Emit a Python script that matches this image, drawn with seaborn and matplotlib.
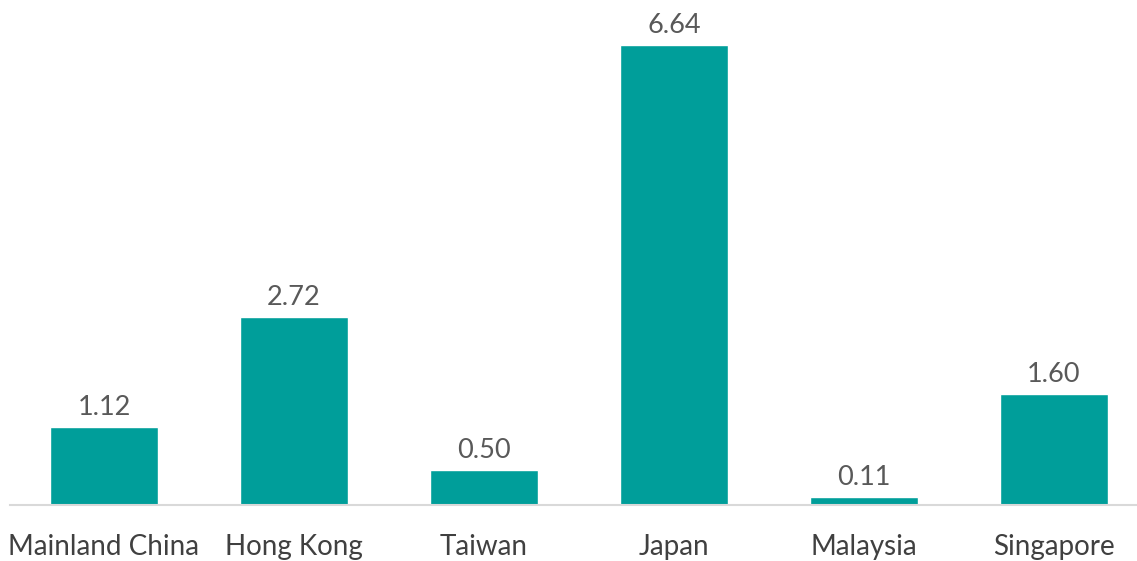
import matplotlib
matplotlib.use("Agg")
import matplotlib.pyplot as plt
import seaborn as sns
import pandas as pd

categories = ["Mainland China", "Hong Kong", "Taiwan", "Japan", "Malaysia", "Singapore"]
values = [1.12, 2.72, 0.50, 6.64, 0.11, 1.60]
labels = ["1.12", "2.72", "0.50", "6.64", "0.11", "1.60"]

sns.set_theme(style="white")
plt.rcParams['font.family'] = ['Lato', 'DejaVu Sans']

df = pd.DataFrame({"cat": categories, "val": values})

fig = plt.figure(figsize=(11.37, 5.61), dpi=100)
W, H = 1137, 561
ax = fig.add_axes([10 / W, (H - 505) / H, 1127 / W, 505 / H])

sns.barplot(data=df, x="cat", y="val", color="#009E9A", saturation=1,
            width=108 / 190, ax=ax)

ax.set_xlim((10 - 104) / 190, (1137 - 104) / 190)
ax.set_ylim(0, 505 / (460 / 6.64))

for i, (v, t) in enumerate(zip(values, labels)):
    ax.annotate(t, (i, v), xytext=(0, 5), textcoords="offset points",
                ha="center", va="bottom", fontsize=19.5, color="#595959")

for s in ["top", "right", "left"]:
    ax.spines[s].set_visible(False)
ax.spines["bottom"].set_color("#D9D9D9")
ax.spines["bottom"].set_linewidth(1.5)
ax.set_yticks([])
ax.set_xlabel("")
ax.set_ylabel("")
ax.tick_params(axis="x", length=0, pad=21, labelsize=20, labelcolor="#404040")

fig.savefig("out.png", dpi=100)
